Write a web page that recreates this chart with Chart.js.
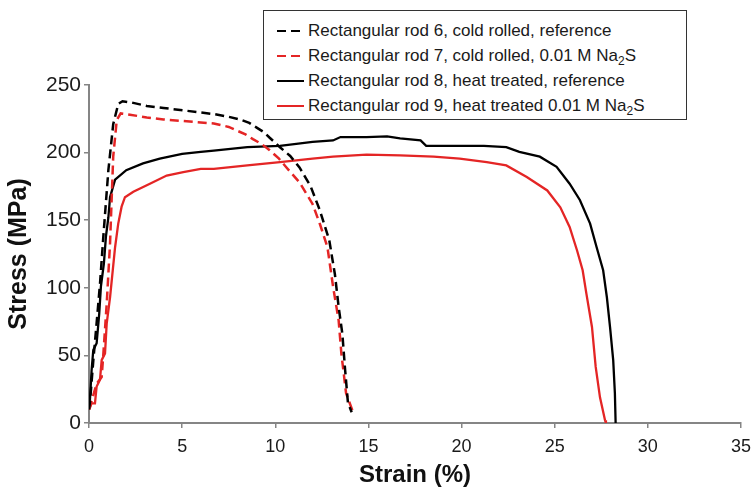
<!DOCTYPE html>
<html>
<head>
<meta charset="utf-8">
<script src="https://cdn.jsdelivr.net/npm/chart.js@4/dist/chart.umd.min.js"></script>
<style>
  body { margin: 0; background: #fff; }
  #wrap { position: relative; width: 754px; height: 490px; }
  #legend {
    position: absolute; left: 263px; top: 10px; width: 424px; height: 110px;
    border: 1px solid #333; background: #fff; box-sizing: border-box;
    padding-top: 7px; font: 17px "Liberation Sans", Arial, sans-serif; color: #1a1a1a;
  }
  #legend .row { height: 25px; line-height: 25px; white-space: nowrap; position: relative; }
  #legend svg { position: absolute; left: 13px; top: 11px; }
  #legend span { position: absolute; left: 44px; top: 0; }
  #legend sub { font-size: 12px; vertical-align: -4px; line-height: 0; }
</style>
</head>
<body>
<div id="wrap">
  <canvas id="chart" width="754" height="490"></canvas>
  <div id="legend"></div>
</div>
<script>
// 应力-应变曲线
const seriesLabels = [
  'Rectangular rod 6, cold rolled, reference',
  'Rectangular rod 7, cold rolled, 0.01 M Na<sub>2</sub>S',
  'Rectangular rod 8, heat treated, reference',
  'Rectangular rod 9, heat treated 0.01 M Na<sub>2</sub>S',
];

// rod 6 — cold rolled, reference
const rod6Strain = [0, 0.05, 0.23, 0.41, 0.59, 0.77, 1.04, 1.3, 1.57, 1.8, 2.3, 3.1, 4.0, 4.9, 5.8, 6.7, 7.5, 8.1, 8.6, 9.0, 9.4, 9.7, 10.25, 10.8, 11.3, 11.9, 12.4, 12.9, 13.2, 13.4, 13.6, 13.75, 13.9, 14.1];
const rod6Stress = [10, 15, 46, 74, 103, 138, 187, 221, 236, 238, 237, 234.5, 233, 231.5, 230, 228.5, 226.5, 224.5, 222, 218.5, 215, 211, 204, 197.5, 189, 175, 157, 135, 110, 86, 66, 39, 15, 8];

// rod 7 — cold rolled, 0.01 M Na2S
const rod7Strain = [0, 0.05, 0.41, 0.68, 0.77, 0.95, 1.13, 1.3, 1.49, 1.7, 2.2, 3.1, 4.0, 4.9, 5.8, 6.7, 7.5, 7.9, 8.4, 8.8, 9.3, 9.7, 10.2, 10.6, 11.3, 12.0, 12.4, 12.8, 13.1, 13.4, 13.55, 13.8, 14.2];
const rod7Stress = [10, 12, 29, 34, 51, 88, 133, 197, 224, 229, 228, 226, 224.5, 223.5, 222.5, 221.5, 219, 216.5, 213.5, 210, 206, 201.7, 195.5, 189, 178, 162, 147, 130, 101, 76, 51, 22, 7];

// rod 8 — heat treated, reference
const rod8Strain = [0, 0.05, 0.14, 0.23, 0.41, 0.55, 0.64, 0.8, 0.91, 1.04, 1.13, 1.4, 2.0, 2.9, 3.8, 5.0, 6.0, 6.7, 8.5, 10.25, 12.0, 13.1, 13.5, 14.9, 16.0, 16.7, 17.8, 18.1, 19.4, 21.2, 22.4, 23.1, 24.2, 25.1, 25.8, 26.35, 26.9, 27.25, 27.6, 27.8, 27.97, 28.14, 28.23, 28.27];
const rod8Stress = [12, 17, 39, 54, 59, 81, 101, 118, 138, 152, 167, 180, 187, 192, 195.5, 199, 200.5, 201.5, 204, 205, 208, 209, 211.5, 211.5, 212, 210.5, 209, 205, 205, 205, 204, 200.5, 197, 189.5, 177, 165, 147.5, 130, 113, 93, 71, 46.5, 22, 0];

// rod 9 — heat treated, 0.01 M Na2S
const rod9Strain = [0, 0.14, 0.32, 0.41, 0.59, 0.68, 0.86, 0.95, 1.13, 1.4, 1.57, 1.75, 1.93, 2.38, 3.27, 4.17, 5.06, 6.0, 6.7, 8.5, 10.25, 12.0, 13.1, 14.9, 16.7, 18.5, 19.9, 21.35, 22.4, 23.5, 24.6, 25.3, 25.8, 26.2, 26.5, 26.7, 27.0, 27.2, 27.43, 27.7, 27.75];
const rod9Stress = [10, 14.5, 14.5, 27, 32, 46.5, 51.5, 73.5, 93, 130, 147.5, 160, 167, 171, 177, 183, 185.6, 188, 188, 190.5, 193, 195.6, 197, 198.5, 198, 197, 195.6, 193, 190.5, 182, 172, 159.5, 145, 127.6, 113, 95.7, 71, 41.5, 19, 2, 0];

const xTicks = [0, 5, 10, 15, 20, 25, 30, 35];
const yTicks = [0, 50, 100, 150, 200, 250];

const BLACK = '#000000';
const RED = '#e42525';
const AXIS = '#858585';

const toPoints = (xs, ys) => xs.map((x, i) => ({ x, y: ys[i] }));

Chart.defaults.font.family = '"Liberation Sans", Arial, sans-serif';
Chart.defaults.color = '#1a1a1a';

const chart = new Chart(document.getElementById('chart'), {
  type: 'line',
  data: {
    datasets: [
      { label: seriesLabels[0], data: toPoints(rod6Strain, rod6Stress), borderColor: BLACK, borderDash: [9, 5], borderWidth: 2.5 },
      { label: seriesLabels[1], data: toPoints(rod7Strain, rod7Stress), borderColor: RED, borderDash: [9, 5], borderWidth: 2.5 },
      { label: seriesLabels[2], data: toPoints(rod8Strain, rod8Stress), borderColor: BLACK, borderDash: [], borderWidth: 2.3 },
      { label: seriesLabels[3], data: toPoints(rod9Strain, rod9Stress), borderColor: RED, borderDash: [], borderWidth: 2.3 },
    ],
  },
  options: {
    responsive: false,
    animation: false,
    devicePixelRatio: 1,
    layout: { padding: { top: 85, right: 13, left: 0, bottom: 0 } },
    elements: { point: { radius: 0 }, line: { tension: 0, fill: false } },
    plugins: { legend: { display: false }, tooltip: { enabled: false } },
    scales: {
      x: {
        type: 'linear', min: 0, max: 35,
        afterFit: (s) => { s.height = 67; s.paddingLeft = 0; s.paddingRight = 0; },
        afterBuildTicks: (s) => { s.ticks = xTicks.map(v => ({ value: v })); },
        ticks: { font: { size: 18 }, padding: 8, color: '#1a1a1a' },
        grid: { drawOnChartArea: false, drawTicks: true, tickLength: 5, color: AXIS, lineWidth: 1.5 },
        border: { color: AXIS, width: 2 },
        title: { display: true, text: 'Strain (%)', font: { size: 24, weight: 'bold' }, color: '#111', padding: { top: 0, bottom: 0 } },
      },
      y: {
        type: 'linear', min: 0, max: 250,
        afterFit: (s) => { s.width = 89; s.paddingTop = 0; s.paddingBottom = 0; },
        afterBuildTicks: (s) => { s.ticks = yTicks.map(v => ({ value: v })); },
        ticks: { font: { size: 21 }, padding: 3, color: '#1a1a1a' },
        grid: { drawOnChartArea: false, drawTicks: true, tickLength: 5, color: AXIS, lineWidth: 1.5 },
        border: { color: AXIS, width: 2 },
        title: { display: true, text: 'Stress (MPa)', font: { size: 25, weight: 'bold' }, color: '#111', padding: { top: 4, bottom: 0 } },
      },
    },
  },
});

// 图例（手工 HTML，带下标）
const legendEl = document.getElementById('legend');
for (const ds of chart.data.datasets) {
  const row = document.createElement('div');
  row.className = 'row';
  const dash = ds.borderDash.length ? `stroke-dasharray="${ds.borderDash.join(' ')}"` : '';
  row.innerHTML = `<svg width="27" height="4"><line x1="0" y1="2" x2="27" y2="2" stroke="${ds.borderColor}" stroke-width="2" ${dash}/></svg><span>${ds.label}</span>`;
  legendEl.appendChild(row);
}
</script>
</body>
</html>
